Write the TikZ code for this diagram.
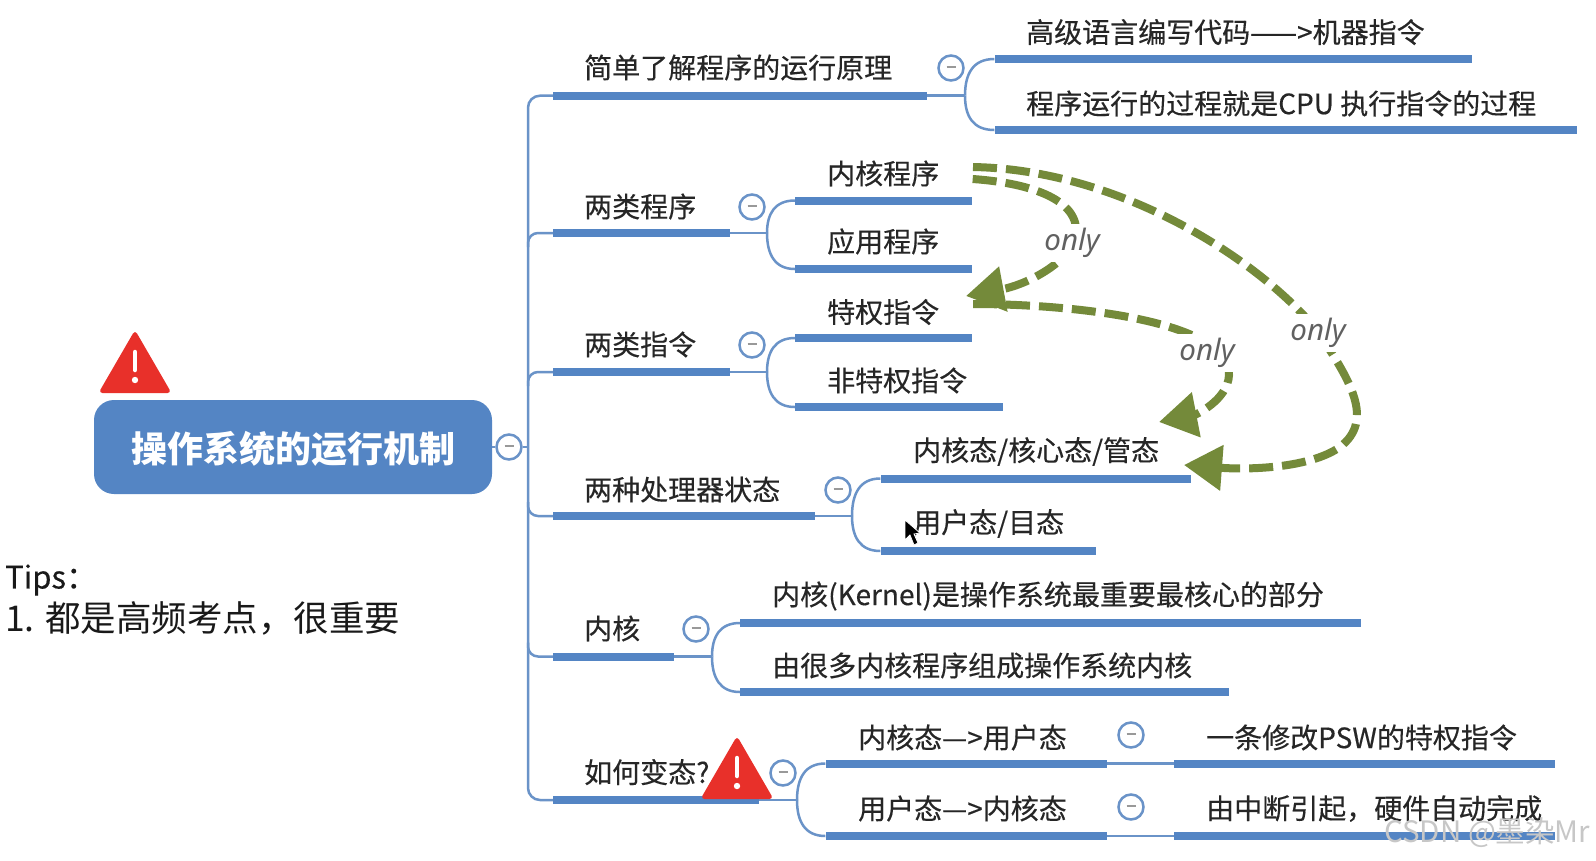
\documentclass[tikz,border=0pt]{standalone}
\usepackage{fontspec}
\setmainfont{Noto Sans CJK SC}
\newfontfamily\lblfont{Noto Sans CJK SC}[FakeBold=0.35]
\newfontfamily\onlyfont{Noto Sans}
\usetikzlibrary{arrows.meta,calc}
\definecolor{mapblue}{HTML}{5485C4}
\definecolor{linkblue}{HTML}{6A93C8}
\definecolor{olive}{HTML}{748A3A}
\definecolor{warnred}{HTML}{E8302A}
\tikzset{
  barnode/.style={fill=mapblue,draw=none,inner sep=0pt,minimum height=8pt},
  lbl/.style={anchor=west,inner sep=0pt,yshift=0.5pt,text=black!85,font=\lblfont\fontsize{28}{30}\selectfont},
  conn/.style={draw=linkblue,line width=2.5pt},
  coll/.style={circle,draw=linkblue,line width=2.5pt,fill=white,inner sep=0pt,minimum size=25pt},
  rel/.style={draw=olive,line width=8pt,dash pattern=on 24pt off 9pt,-{Triangle[length=38pt,width=44pt,fill=olive]}},
  onlylbl/.style={fill=white,inner sep=0pt,minimum width=60pt,minimum height=38pt,text=black!62,font=\onlyfont\itshape\fontsize{29.5}{30}\selectfont}
}
\newcommand{\topic}[7]{%
  \node[barnode,minimum width={(#3-#2)*1pt}] (#1) at ({(#2+#3)/2},#4) {};
  \node[lbl] (#1t) at (#5,#6) {#7};
}
\newcommand{\collapse}[3]{\node[coll] (#1) at (#2,#3) {\textcolor{black!40}{\rule[2pt]{9pt}{2.5pt}}};}
\newcommand{\forkto}[3]{%
  \draw[conn] (#1.east) -- (#2);
  \foreach \kid in {#3} {\draw[conn] (#2) .. controls ($(#2)!0.6!(#2 |- \kid.west)$) and ($(#2 |- \kid.west)+(8,0)$) .. (\kid.west);}
}
\newcommand{\warnsign}[2]{%
  \fill[warnred,rounded corners=4pt] (#1-36.5,#2+61) -- (#1,#2-2) -- (#1+36.5,#2+61) -- cycle;
  \draw[white,line width=4.5pt,line cap=round] (#1,#2+20) -- (#1,#2+38);
  \fill[white] (#1,#2+48) circle (3.2pt);
}
\begin{document}
\begin{tikzpicture}[x=1pt,y=-1pt]
\clip (0,0) rectangle (1596,860);
\fill[white] (0,0) rectangle (1596,860);

% root
\node[fill=mapblue,rounded corners=20pt,minimum width=398pt,minimum height=94pt,inner sep=0pt,text=white] (root) at (293,447) {};
\node[text=white,inner sep=0pt,font=\bfseries\fontsize{36}{38}\selectfont] (roott) at (293,449) {操作系统的运行机制};
\warnsign{135}{332}
\coordinate (tr) at (528,447);

% first level
\topic{a}{553}{927}{95.7}{584}{68}{简单了解程序的运行原理}
\topic{b}{553}{730}{233}{584}{207}{两类程序}
\topic{c}{553}{730}{372}{584}{345}{两类指令}
\topic{d}{553}{815}{516}{584}{490}{两种处理器状态}
\topic{e}{553}{674}{656.5}{584}{629}{内核}
\topic{f}{553}{759}{800}{584}{772.6}{如何变态?}

% second level
\topic{a1}{994.5}{1472}{59}{1026}{32.6}{高级语言编写代码——>机器指令}
\topic{a2}{994.5}{1577}{130}{1026}{104}{程序运行的过程就是CPU 执行指令的过程}
\topic{b1}{795}{972}{200.5}{827}{174}{内核程序}
\topic{b2}{795}{972}{269}{827}{242}{应用程序}
\topic{c1}{795}{972}{338}{827}{312.5}{特权指令}
\topic{c2}{795}{1003}{407}{827}{381}{非特权指令}
\topic{d1}{880.5}{1191}{478.5}{913}{452}{内核态/核心态/管态}
\topic{d2}{880.5}{1096}{551}{913}{524}{用户态/目态}
\topic{e1}{740}{1361}{623}{772}{596.5}{内核(Kernel)是操作系统最重要最核心的部分}
\topic{e2}{740}{1229}{692}{772}{666}{由很多内核程序组成操作系统内核}
\topic{f1}{825.5}{1106.5}{763.5}{858}{738}{内核态—>用户态}
\topic{f2}{825.5}{1106.5}{836}{858}{809}{用户态—>内核态}
\topic{g1}{1174}{1555}{763.5}{1206}{738}{一条修改PSW的特权指令}
\topic{g2}{1174}{1555}{836}{1206}{809}{由中断引起，硬件自动完成}

% trunk
\draw[conn,rounded corners=12pt] (a.west) -- (tr |- a.west) -- (tr |- f.west) -- (f.west);
\draw[conn,rounded corners=10pt] (b.west) -- (tr |- b.west) -- ($(tr |- b.west)+(0,14)$);
\draw[conn,rounded corners=10pt] (c.west) -- (tr |- c.west) -- ($(tr |- c.west)+(0,14)$);
\draw[conn,rounded corners=10pt] (d.west) -- (tr |- d.west) -- ($(tr |- d.west)+(0,-14)$);
\draw[conn,rounded corners=10pt] (e.west) -- (tr |- e.west) -- ($(tr |- e.west)+(0,-14)$);

% forks
\coordinate (fa) at (965,95.7);
\coordinate (fb) at (767,233);
\coordinate (fc) at (767,372);
\coordinate (fd) at (852,516);
\coordinate (fe) at (712,656.5);
\coordinate (ff) at (797,800);
\forkto{a}{fa}{a1,a2}
\forkto{b}{fb}{b1,b2}
\forkto{c}{fc}{c1,c2}
\forkto{d}{fd}{d1,d2}
\forkto{e}{fe}{e1,e2}
\forkto{f}{ff}{f1,f2}
\draw[conn] (f1.east) -- (g1.west);
\draw[conn] (f2.east) -- (g2.west);

% collapse buttons
\collapse{cr}{509}{447}
\draw[conn] (root.east) -- (cr.west);
\draw[conn] (cr.east) -- (tr);
\collapse{ca}{951}{68}
\collapse{cb}{752}{207}
\collapse{cc}{752}{345}
\collapse{cd}{838}{490}
\collapse{ce}{696}{629}
\collapse{cf}{783}{773}
\collapse{cg}{1131}{735}
\collapse{ch}{1131}{807}
\warnsign{737}{738}

% only arrows
\coordinate (pa) at (972.7,179);
\coordinate (qa) at (966,296);
\coordinate (pb) at (973,304);
\coordinate (qb) at (1159,422);
\coordinate (pc) at (973,167);
\coordinate (qc) at (1184,465);
\draw[rel] (pa) .. controls (1030,183) and (1085,200) .. (1075,240) .. controls (1065,265) and (1025,285) .. (qa);
\draw[rel] (pb) .. controls (1070,304) and (1230,320) .. (1229,375) .. controls (1228,400) and (1195,415) .. (qb);
\draw[rel] (pc) .. controls (1130,170) and (1270,270) .. (1318,332) .. controls (1350,380) and (1375,420) .. (1340,447) .. controls (1310,468) and (1250,470) .. (qc);
\node[onlylbl] (oa) at (1072,243) {only};
\node[onlylbl] (ob) at (1207,353) {only};
\node[onlylbl] (oc) at (1318,333) {only};

% cursor
\filldraw[fill=black,draw=white,line width=0.8pt] (905,520) -- (905,540) -- (910,535) -- (914,545) -- (918,543) -- (914,534) -- (920,533) -- cycle;

% left note
\node[anchor=west,inner sep=0pt,text=black!90,font=\lblfont\fontsize{31}{34}\selectfont] (tips) at (5,580) {Tips：};
\node[anchor=west,inner sep=0pt,text=black!90,font=\fontsize{35.5}{38}\selectfont] (tip1) at (5,618) {1. 都是高频考点，很重要};

% watermark
\node[anchor=west,inner sep=0pt,text=black!22,font=\fontsize{29.5}{30}\selectfont] (wm) at (1384,833) {CSDN @墨染Mr};
\end{tikzpicture}
\end{document}
